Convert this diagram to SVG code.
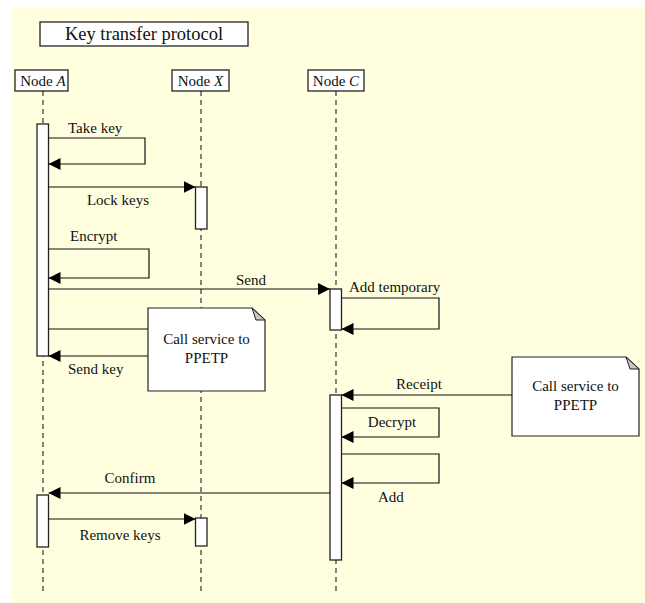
<svg xmlns="http://www.w3.org/2000/svg" width="645" height="603" viewBox="0 0 645 603">
<defs>
<style>
text{font-family:"Liberation Serif","DejaVu Serif","Times New Roman",serif;font-size:15px;fill:#111}
.t{font-size:18.5px}
.box{fill:#fff;stroke:#222;stroke-width:1.3}
.life{stroke:#444;stroke-width:1.3;stroke-dasharray:5 4;fill:none}
.act{fill:#fff;stroke:#222;stroke-width:1.3}
.msg{stroke:#111;stroke-width:1.2;fill:none}
.note{fill:#fff;stroke:#222;stroke-width:1.2}
.fold{fill:#c8c8c8;stroke:#222;stroke-width:1}
</style>
<marker id="ah" viewBox="0 0 12 12" refX="12" refY="6" markerWidth="12" markerHeight="12" markerUnits="userSpaceOnUse" orient="auto">
<path d="M0,0 L12,6 L0,12 z" fill="#000"/>
</marker>
</defs>
<rect x="12" y="7" width="633" height="596" fill="#ffffe0"/>
<g id="title"><rect class="box" x="40" y="22" width="208" height="24"/><text class="t" x="144" y="40" text-anchor="middle">Key transfer protocol</text></g>
<g id="lifelines">
<line class="life" x1="43" y1="91" x2="43" y2="594"/>
<line class="life" x1="201" y1="91" x2="201" y2="594"/>
<line class="life" x1="336" y1="91" x2="336" y2="594"/>
</g>
<g id="nodeA"><rect class="box" x="15" y="70" width="53" height="21"/><text x="43" y="86" text-anchor="middle">Node <tspan font-style="italic">A</tspan></text></g>
<g id="nodeX"><rect class="box" x="172" y="70" width="57" height="21"/><text x="200.5" y="86" text-anchor="middle">Node <tspan font-style="italic">X</tspan></text></g>
<g id="nodeC"><rect class="box" x="308" y="70" width="56" height="21"/><text x="336" y="86" text-anchor="middle">Node <tspan font-style="italic">C</tspan></text></g>
<g id="activations">
<rect class="act" x="37" y="124" width="11.5" height="232"/>
<rect class="act" x="195.5" y="187" width="11.5" height="42"/>
<rect class="act" x="330" y="289" width="11.5" height="41"/>
<rect class="act" x="330" y="395" width="11.5" height="165"/>
<rect class="act" x="37" y="495" width="11.5" height="52"/>
<rect class="act" x="195.5" y="518" width="11.5" height="28"/>
</g>
<g id="note1"><path class="note" d="M148,308 H252 L265,320 V391 H148 Z"/><path class="fold" d="M252,308 L256,320 L265,320 Z"/><text x="206.5" y="344" text-anchor="middle">Call service to</text><text x="206.5" y="363" text-anchor="middle">PPETP</text></g>
<g id="note2"><path class="note" d="M512,357 H626 L639,369 V436 H512 Z"/><path class="fold" d="M626,357 L630,369 L639,369 Z"/><text x="575.5" y="391" text-anchor="middle">Call service to</text><text x="575.5" y="410" text-anchor="middle">PPETP</text></g>
<g id="connectors">
<path class="msg" d="M48.5,138 H145 V164 H48.5" marker-end="url(#ah)"/>
<path class="msg" d="M48.5,187 H195.5" marker-end="url(#ah)"/>
<path class="msg" d="M48.5,249 H149 V278 H48.5" marker-end="url(#ah)"/>
<path class="msg" d="M48.5,289 H330" marker-end="url(#ah)"/>
<path class="msg" d="M341.5,298 H439 V329 H341.5" marker-end="url(#ah)"/>
<path class="msg" d="M48.5,329 H148"/>
<path class="msg" d="M148,356 H48.5" marker-end="url(#ah)"/>
<path class="msg" d="M512,395 H341.5" marker-end="url(#ah)"/>
<path class="msg" d="M341.5,408 H439 V437 H341.5" marker-end="url(#ah)"/>
<path class="msg" d="M341.5,454 H439 V483 H341.5" marker-end="url(#ah)"/>
<path class="msg" d="M330,493 H48.5" marker-end="url(#ah)"/>
<path class="msg" d="M48.5,519 H195.5" marker-end="url(#ah)"/>
</g>
<g id="labels">
<text x="68" y="133">Take key</text>
<text x="118" y="205" text-anchor="middle">Lock keys</text>
<text x="70" y="241">Encrypt</text>
<text x="251" y="285" text-anchor="middle">Send</text>
<text x="349" y="292">Add temporary</text>
<text x="68" y="374">Send key</text>
<text x="419" y="389" text-anchor="middle">Receipt</text>
<text x="392" y="427" text-anchor="middle">Decrypt</text>
<text x="378" y="502">Add</text>
<text x="130" y="483" text-anchor="middle">Confirm</text>
<text x="120" y="540" text-anchor="middle">Remove keys</text>
</g>
</svg>
